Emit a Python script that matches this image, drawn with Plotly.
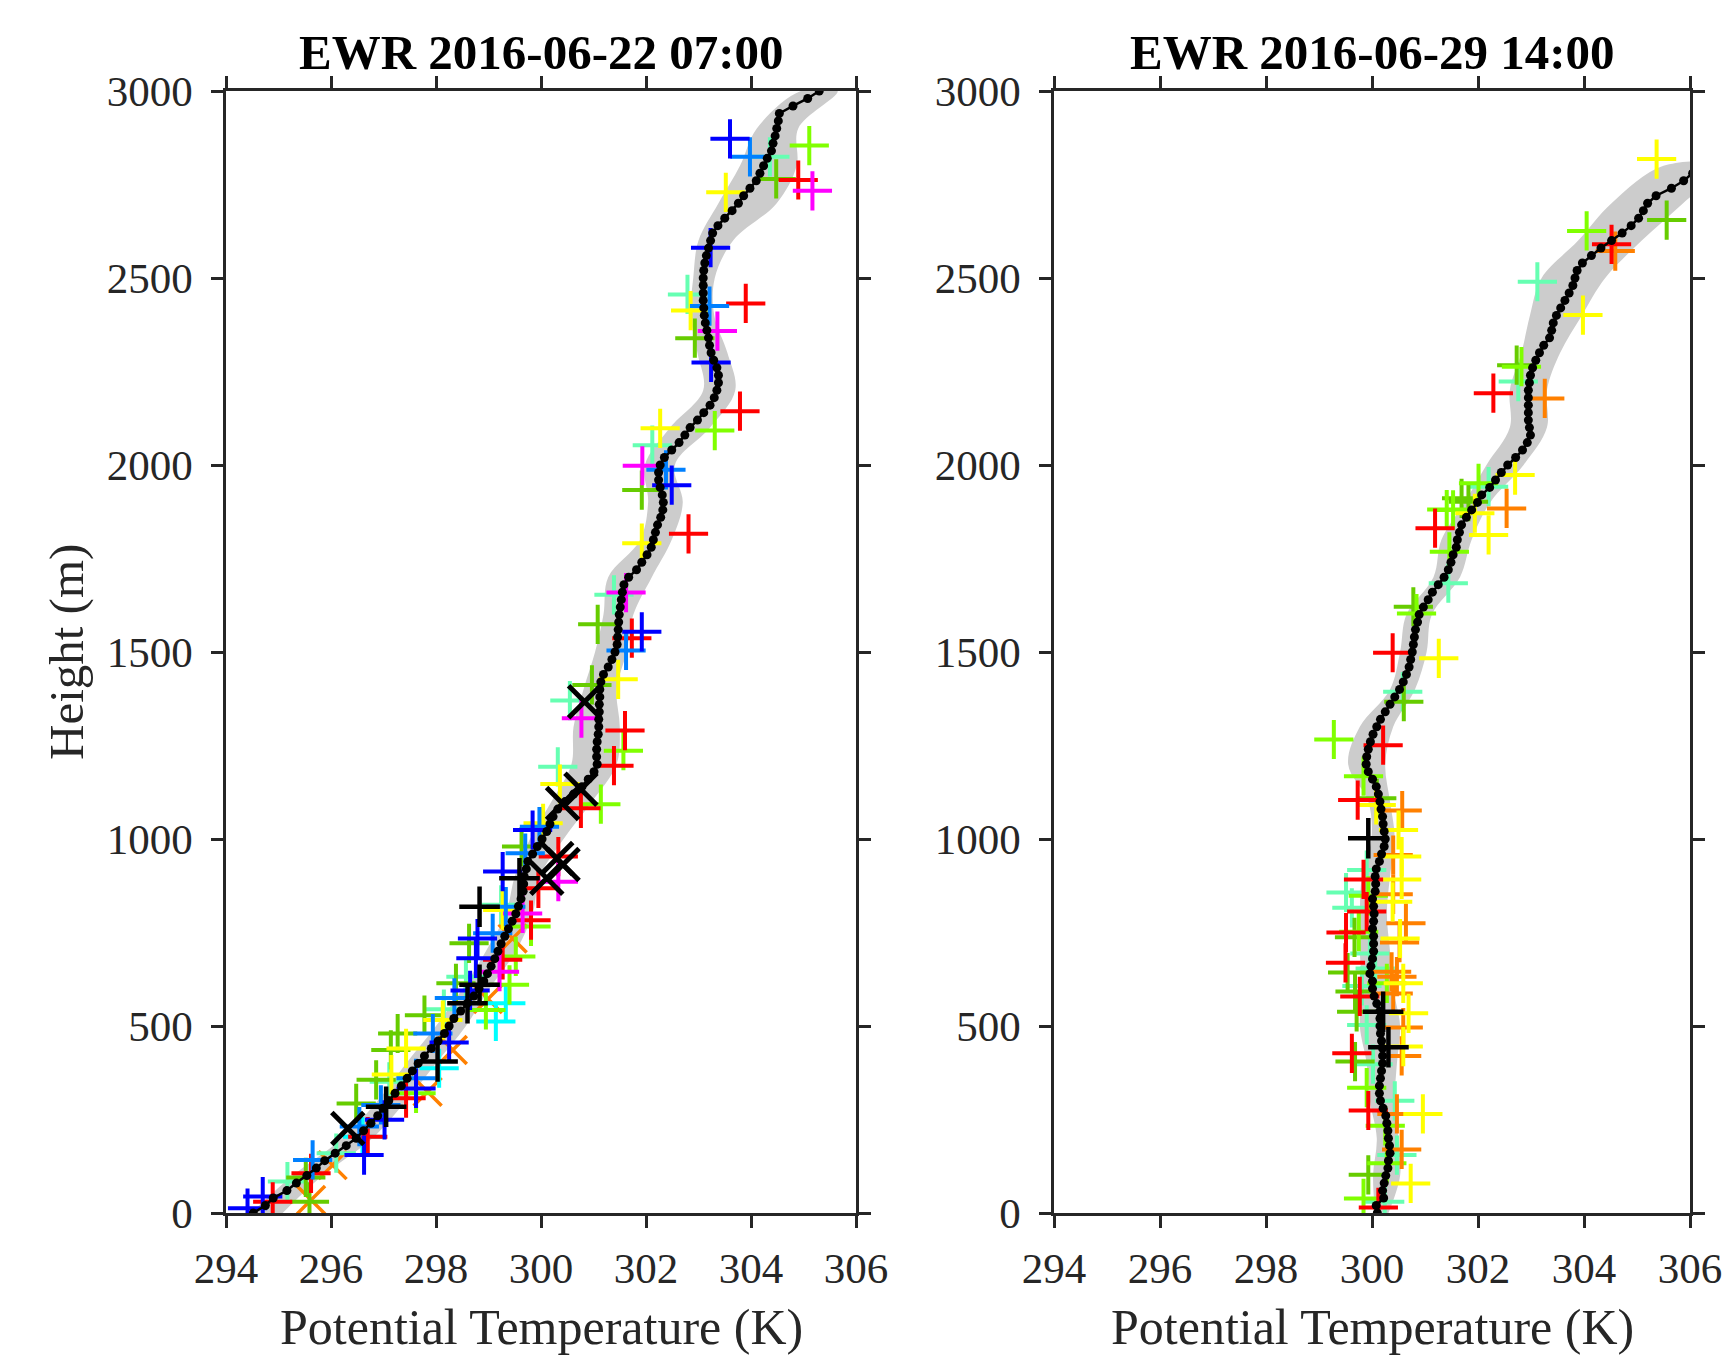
import plotly.graph_objects as go

# ---------------- Profile heights (m) ----------------
H_LEFT = list(range(0, 3001, 20))
H_RIGHT = list(range(0, 2781, 20))
H_BAND = list(range(0, 3001, 100))
H_BAND_R = list(range(0, 2801, 100))

# ---------------- Left panel: EWR 2016-06-22 07:00 ----------------
T_LEFT = [294.52, 294.75, 294.90, 295.16, 295.34, 295.54, 295.72, 295.88, 296.08, 296.29,
          296.48, 296.62, 296.76, 296.89, 296.99, 297.10, 297.22, 297.34, 297.45, 297.55,
          297.66, 297.78, 297.91, 298.04, 298.16, 298.25, 298.34, 298.47, 298.59, 298.72,
          298.82, 298.91, 298.98, 299.05, 299.12, 299.18, 299.24, 299.31, 299.38, 299.45,
          299.52, 299.57, 299.62, 299.66, 299.67, 299.68, 299.72, 299.75, 299.84, 299.93,
          300.02, 300.11, 300.17, 300.23, 300.32, 300.46, 300.62, 300.78, 300.90, 301.01,
          301.07, 301.06, 301.06, 301.07, 301.09, 301.10, 301.10, 301.11, 301.11, 301.12,
          301.12, 301.14, 301.19, 301.28, 301.35, 301.41, 301.45, 301.46, 301.47, 301.48,
          301.49, 301.51, 301.53, 301.55, 301.58, 301.67, 301.82, 301.92, 302.02, 302.10,
          302.14, 302.18, 302.22, 302.28, 302.32, 302.33, 302.31, 302.27, 302.24, 302.24,
          302.27, 302.35, 302.49, 302.63, 302.74, 302.84, 302.98, 303.10, 303.22, 303.30,
          303.35, 303.38, 303.38, 303.35, 303.29, 303.24, 303.21, 303.19, 303.16, 303.13,
          303.11, 303.10, 303.09, 303.09, 303.09, 303.09, 303.10, 303.12, 303.15, 303.19,
          303.23, 303.27, 303.37, 303.50, 303.64, 303.76, 303.86, 303.98, 304.10, 304.17,
          304.24, 304.31, 304.39, 304.42, 304.46, 304.49, 304.52, 304.54, 304.80, 305.08,
          305.30]

BAND_LEFT_LO = [294.48, 295.27, 296.22, 296.89, 297.43, 298.00, 298.51, 298.95, 299.33, 299.50,
                299.79, 300.20, 300.58, 300.62, 300.81, 301.03, 301.19, 301.28, 301.89, 302.04,
                301.98, 302.46, 303.09, 302.98, 302.85, 302.90, 303.00, 303.38, 303.79, 304.11,
                304.95]
BAND_LEFT_HI = [295.08, 295.84, 296.79, 297.43, 298.00, 298.57, 299.02, 299.52, 299.84, 299.98,
                300.43, 300.97, 301.44, 301.50, 301.44, 301.63, 301.76, 302.11, 302.49, 302.70,
                302.55, 303.22, 303.70, 303.55, 303.30, 303.31, 303.66, 304.49, 304.87, 304.90,
                305.65]

# left panel observations ("+" markers) per source colour
L_RED_T = [304.90, 303.90, 303.79, 302.81, 301.73, 301.60, 301.39, 300.76, 300.33, 299.95, 299.81, 299.27, 297.43, 296.70, 295.62, 294.89]
L_RED_H = [2762, 2432, 2144, 1816, 1537, 1290, 1196, 1082, 953, 868, 783, 677, 307, 204, 106, 30]
L_YELLOW_T = [303.52, 302.85, 302.27, 301.92, 301.47, 300.36, 300.04, 299.27, 298.13, 297.43, 297.15]
L_YELLOW_H = [2729, 2413, 2098, 1791, 1427, 1147, 1042, 810, 516, 440, 370]
L_LIME_T = [305.11, 303.31, 301.57, 301.14, 299.81, 299.52, 299.40, 298.95, 297.62]
L_LIME_H = [2854, 2092, 1236, 1093, 766, 686, 610, 543, 320]
L_GREEN_T = [304.48, 302.93, 301.92, 301.08, 300.97, 299.63, 298.63, 298.38, 297.78, 297.27, 297.14, 296.86, 296.48, 295.52, 295.59]
L_GREEN_H = [2765, 2339, 1933, 1574, 1412, 980, 721, 614, 529, 480, 436, 356, 293, 95, 30]
L_AQUA_T = [304.36, 302.79, 302.12, 301.39, 300.55, 300.32, 299.24, 298.57, 298.15, 297.11, 296.10, 295.17]
L_AQUA_H = [2824, 2456, 2053, 1653, 1370, 1193, 824, 632, 545, 351, 160, 84]
L_CYAN_T = [299.33, 299.14, 298.06, 296.60]
L_CYAN_H = [561, 512, 387, 204]
L_AZURE_T = [303.98, 303.21, 302.38, 301.62, 299.97, 299.70, 299.33, 299.08, 298.35, 297.94, 297.62, 296.95, 296.54, 295.65]
L_AZURE_H = [2824, 2425, 1987, 1504, 1033, 962, 819, 748, 575, 480, 360, 289, 231, 142]
L_BLUE_T = [303.60, 303.23, 303.24, 302.49, 301.92, 299.84, 299.27, 298.79, 298.76, 298.65, 298.25, 297.62, 297.02, 296.63, 294.70, 294.41]
L_BLUE_H = [2872, 2581, 2274, 1946, 1554, 1024, 913, 734, 681, 595, 456, 333, 249, 155, 44, 13]
L_MAGENTA_T = [305.17, 303.36, 301.93, 301.62, 300.77, 300.33, 299.65, 299.21]
L_MAGENTA_H = [2733, 2358, 1998, 1659, 1323, 886, 801, 645]
L_BLACK_T = [299.59, 298.83, 298.83, 298.60, 298.03, 297.05]
L_BLACK_H = [895, 819, 610, 561, 405, 284]
# "x" markers
L_XBLACK_T = [300.83, 300.76, 300.41, 300.30, 300.42, 300.11, 296.32]
L_XBLACK_H = [1367, 1133, 1095, 948, 932, 895, 226]
L_XORANGE_T = [299.46, 298.99, 298.32, 297.84, 296.03, 295.62]
L_XORANGE_H = [734, 572, 436, 324, 128, 35]

# ---------------- Right panel: EWR 2016-06-29 14:00 ----------------
T_RIGHT = [300.10, 300.08, 300.22, 300.20, 300.23, 300.26, 300.30, 300.31, 300.34, 300.33,
           300.31, 300.30, 300.28, 300.26, 300.21, 300.16, 300.14, 300.14, 300.16, 300.18,
           300.20, 300.20, 300.20, 300.18, 300.16, 300.15, 300.15, 300.15, 300.09, 300.04,
           300.01, 300.01, 299.96, 299.98, 300.01, 300.03, 300.03, 300.03, 300.01, 300.03,
           300.04, 300.03, 300.01, 300.06, 300.07, 300.06, 300.08, 300.14, 300.18, 300.23,
           300.25, 300.23, 300.21, 300.20, 300.17, 300.15, 300.12, 300.08, 300.01, 299.93,
           299.89, 299.90, 299.93, 299.97, 300.02, 300.09, 300.16, 300.25, 300.34, 300.43,
           300.52, 300.59, 300.65, 300.70, 300.73, 300.76, 300.78, 300.80, 300.82, 300.86,
           300.89, 300.97, 301.06, 301.14, 301.25, 301.36, 301.44, 301.49, 301.53, 301.59,
           301.61, 301.65, 301.69, 301.78, 301.88, 301.99, 302.07, 302.22, 302.33, 302.44,
           302.56, 302.71, 302.84, 302.93, 302.99, 302.97, 302.95, 302.95, 302.95, 302.95,
           302.95, 302.97, 302.99, 303.03, 303.09, 303.16, 303.24, 303.35, 303.39, 303.42,
           303.48, 303.56, 303.64, 303.72, 303.79, 303.83, 303.87, 303.97, 304.14, 304.32,
           304.52, 304.72, 304.89, 305.03, 305.12, 305.20, 305.36, 305.65, 305.88, 306.05]

BAND_RIGHT_LO = [300.06, 300.02, 300.09, 299.96, 299.90, 299.77, 299.81, 299.77, 299.77, 299.81,
                 299.99, 299.93, 299.55, 299.77, 300.34, 300.53, 300.65, 301.16, 301.31, 301.75,
                 302.16, 302.60, 302.60, 302.82, 302.98, 303.20, 303.89, 304.52, 305.50]
BAND_RIGHT_HI = [300.31, 300.53, 300.50, 300.43, 300.47, 300.53, 300.40, 300.34, 300.28, 300.34,
                 300.43, 300.34, 300.25, 300.40, 300.81, 301.03, 301.13, 301.66, 301.88, 302.23,
                 302.86, 303.30, 303.30, 303.55, 303.96, 304.40, 305.09, 305.87, 306.60]

R_RED_T = [304.52, 302.29, 301.19, 300.39, 300.21, 299.73, 299.84, 299.90, 299.51, 299.50, 299.77, 299.62, 299.93, 300.12]
R_RED_H = [2590, 2192, 1831, 1498, 1251, 1104, 892, 806, 750, 669, 579, 427, 274, 15]
R_ORANGE_T = [304.59, 303.26, 302.54, 300.57, 300.40, 300.40, 300.64, 300.52, 300.37, 300.47, 300.40, 300.59, 300.56, 300.47, 300.56]
R_ORANGE_H = [2572, 2178, 1884, 1076, 957, 852, 775, 723, 645, 632, 587, 496, 420, 265, 170]
R_YELLOW_T = [305.37, 303.98, 302.70, 301.94, 302.20, 301.26, 300.08, 300.50, 300.56, 300.56, 300.39, 300.53, 300.59, 300.69, 300.59, 300.96, 300.73]
R_YELLOW_H = [2818, 2401, 1973, 1871, 1813, 1483, 1091, 1024, 953, 892, 832, 734, 614, 534, 445, 265, 79]
R_LIME_T = [304.05, 302.82, 302.01, 301.53, 301.41, 301.46, 300.84, 299.28, 299.84, 299.93, 299.75, 300.28, 299.90, 300.25, 300.28, 299.84]
R_LIME_H = [2626, 2263, 1951, 1880, 1881, 1768, 1603, 1266, 1168, 848, 752, 614, 335, 233, 133, 39]
R_GREEN_T = [305.56, 302.73, 301.69, 301.82, 300.78, 300.60, 300.09, 299.67, 299.54, 299.68, 299.71, 299.68, 299.93]
R_GREEN_H = [2655, 2267, 1911, 1902, 1621, 1367, 1109, 737, 643, 592, 538, 405, 102]
R_AQUA_T = [303.12, 302.76, 302.20, 301.44, 300.58, 299.90, 299.51, 299.62, 299.96, 300.06, 299.81, 299.90, 300.02, 300.43, 300.47, 300.24]
R_AQUA_H = [2490, 2223, 1942, 1684, 1394, 917, 857, 816, 694, 654, 607, 503, 398, 300, 155, 30]
R_BLACK_T = [299.93, 300.21, 300.31]
R_BLACK_H = [1002, 538, 443]

# ---------------- Styling ----------------
RED, ORANGE, YELLOW = "#ff0000", "#ff8000", "#ffff00"
LIME, GREEN, AQUA = "#80ff00", "#66cc00", "#66ffb2"
CYAN, AZURE, BLUE = "#00ffff", "#0080ff", "#0000ff"
MAGENTA, BLACK = "#ff00ff", "#000000"
AX = "#262626"
FONT = "Liberation Serif"

fig = go.Figure()


def band(h, lo, hi, xa, ya):
    fig.add_trace(go.Scatter(
        x=list(lo) + list(hi)[::-1], y=list(h) + list(h)[::-1],
        fill="toself", fillcolor="#cccccc", mode="lines",
        line=dict(width=0, color="#cccccc", shape="spline", smoothing=1.0),
        xaxis=xa, yaxis=ya, hoverinfo="skip", showlegend=False))


def plus(t, h, color, xa, ya, size=28, width=4):
    fig.add_trace(go.Scatter(
        x=t, y=h, mode="markers", xaxis=xa, yaxis=ya, showlegend=False,
        marker=dict(symbol="cross-thin", size=size, color=color,
                    line=dict(color=color, width=width))))


def xmark(t, h, color, xa, ya, size=28, width=4):
    fig.add_trace(go.Scatter(
        x=t, y=h, mode="markers", xaxis=xa, yaxis=ya, showlegend=False,
        marker=dict(symbol="x-thin", size=size, color=color,
                    line=dict(color=color, width=width))))


def profile(t, h, xa, ya):
    fig.add_trace(go.Scatter(
        x=t, y=h, mode="lines+markers", xaxis=xa, yaxis=ya, showlegend=False,
        line=dict(color="black", width=2.5),
        marker=dict(symbol="circle", size=9, color="black")))


# Left panel
band(H_BAND, BAND_LEFT_LO, BAND_LEFT_HI, "x", "y")
xmark(L_XORANGE_T, L_XORANGE_H, ORANGE, "x", "y", size=28, width=3.5)
for t, h, c in [(L_AQUA_T, L_AQUA_H, AQUA), (L_CYAN_T, L_CYAN_H, CYAN),
                (L_GREEN_T, L_GREEN_H, GREEN), (L_LIME_T, L_LIME_H, LIME),
                (L_YELLOW_T, L_YELLOW_H, YELLOW), (L_RED_T, L_RED_H, RED),
                (L_MAGENTA_T, L_MAGENTA_H, MAGENTA), (L_AZURE_T, L_AZURE_H, AZURE),
                (L_BLUE_T, L_BLUE_H, BLUE)]:
    plus(t, h, c, "x", "y")
profile(T_LEFT, H_LEFT, "x", "y")
plus(L_BLACK_T, L_BLACK_H, BLACK, "x", "y", size=29, width=4.5)
xmark(L_XBLACK_T, L_XBLACK_H, BLACK, "x", "y", size=32, width=5)

# Right panel
band(H_BAND_R, BAND_RIGHT_LO, BAND_RIGHT_HI, "x2", "y2")
for t, h, c in [(R_AQUA_T, R_AQUA_H, AQUA), (R_GREEN_T, R_GREEN_H, GREEN),
                (R_LIME_T, R_LIME_H, LIME), (R_ORANGE_T, R_ORANGE_H, ORANGE),
                (R_YELLOW_T, R_YELLOW_H, YELLOW), (R_RED_T, R_RED_H, RED)]:
    plus(t, h, c, "x2", "y2")
profile(T_RIGHT, H_RIGHT, "x2", "y2")
plus(R_BLACK_T, R_BLACK_H, BLACK, "x2", "y2", size=29, width=4.5)

W, H = 1727, 1357
XL = [226 / W, 856 / W]
XR = [1054 / W, 1690 / W]
YD = [(H - 1213) / H, (H - 91) / H]

xt = list(range(294, 307, 2))
yt = list(range(0, 3001, 500))

axis_common = dict(showline=True, linecolor=AX, linewidth=2.5, mirror="ticks",
                   ticks="outside", ticklen=12, tickwidth=2.5, tickcolor=AX,
                   showgrid=False, zeroline=False, automargin=False,
                   tickfont=dict(family=FONT, size=43, color=AX))

fig.update_layout(
    template="none",
    width=W, height=H, autosize=False,
    margin=dict(l=0, r=0, t=0, b=0, pad=0),
    paper_bgcolor="white", plot_bgcolor="white",
    xaxis=dict(domain=XL, range=[294, 306], tickvals=xt, anchor="y",
               ticklabelstandoff=4, **axis_common),
    yaxis=dict(domain=YD, range=[0, 3000], tickvals=yt, anchor="x",
               ticklabelstandoff=10, **axis_common),
    xaxis2=dict(domain=XR, range=[294, 306], tickvals=xt, anchor="y2",
                ticklabelstandoff=4, **axis_common),
    yaxis2=dict(domain=YD, range=[0, 3000], tickvals=yt, anchor="x2",
                ticklabelstandoff=10, **axis_common),
)

ann_font = dict(family=FONT, size=50, color=AX)
title_font = dict(family=FONT, size=49, color="black")
fig.add_annotation(text="<b>EWR 2016-06-22 07:00</b>", x=(XL[0] + XL[1]) / 2, y=1 - 53 / H,
                   xref="paper", yref="paper", showarrow=False, font=title_font,
                   xanchor="center", yanchor="middle")
fig.add_annotation(text="<b>EWR 2016-06-29 14:00</b>", x=(XR[0] + XR[1]) / 2, y=1 - 53 / H,
                   xref="paper", yref="paper", showarrow=False, font=title_font,
                   xanchor="center", yanchor="middle")
fig.add_annotation(text="Potential Temperature (K)", x=(XL[0] + XL[1]) / 2, y=1 - 1327 / H,
                   xref="paper", yref="paper", showarrow=False, font=ann_font,
                   xanchor="center", yanchor="middle")
fig.add_annotation(text="Potential Temperature (K)", x=(XR[0] + XR[1]) / 2, y=1 - 1327 / H,
                   xref="paper", yref="paper", showarrow=False, font=ann_font,
                   xanchor="center", yanchor="middle")
fig.add_annotation(text="Height (m)", x=66 / W, y=(YD[0] + YD[1]) / 2,
                   xref="paper", yref="paper", showarrow=False,
                   font=dict(family=FONT, size=49, color=AX),
                   textangle=-90, xanchor="center", yanchor="middle")

fig.write_html("out.html")
